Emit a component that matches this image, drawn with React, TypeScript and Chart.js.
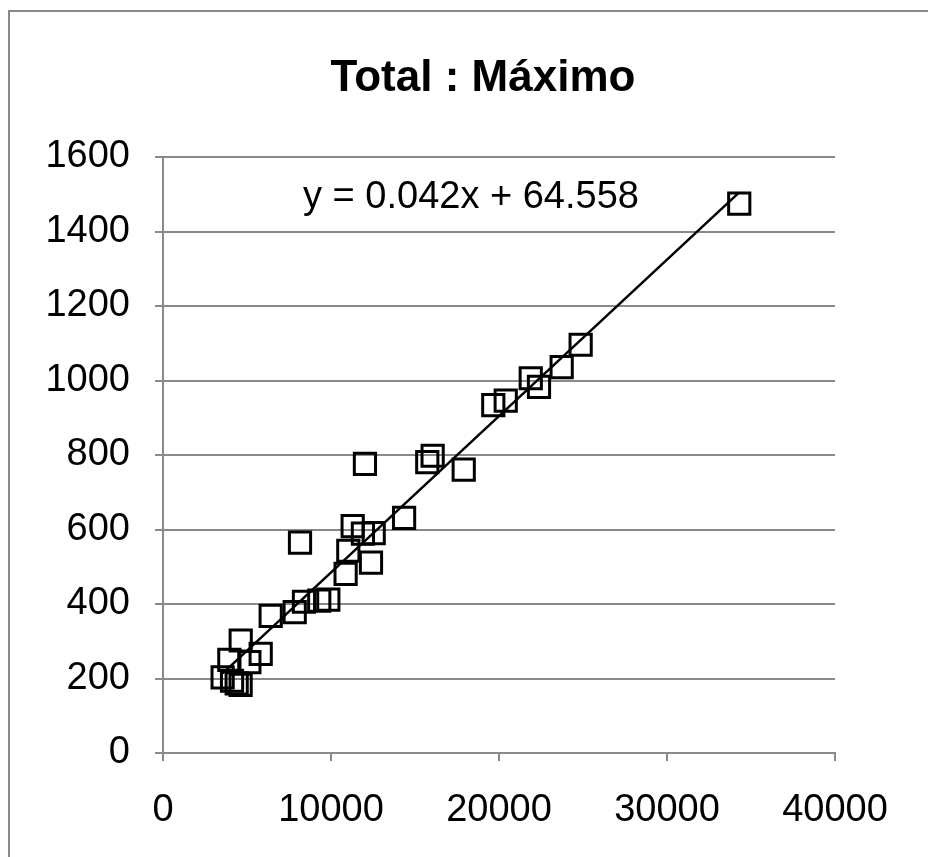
import React, { useEffect, useRef } from "react";
import { Chart, registerables } from "chart.js";

Chart.register(...registerables);

const chartTitle = "Total : Máximo";
const xValues = [34300, 24860, 23730, 21890, 22380, 19660, 20400, 16050, 15730, 17900, 14350, 12020, 8155, 11290, 11900, 12540, 11030, 12380, 10870, 8390, 9840, 9300, 7840, 6410, 4625, 3950, 5815, 5140, 3550, 4110, 4620, 4385];
const yValues = [1475, 1096, 1036, 1006, 983, 934, 946, 798, 781, 761, 631, 776, 565, 609, 589, 590, 543, 511, 481, 406, 412, 409, 378, 368, 302, 250, 266, 244, 203, 194, 183, 187];
const trendSlope = 0.042;
const trendIntercept = 64.558;
const equationLabel = "y = 0.042x + 64.558";
const xTicks = [0, 10000, 20000, 30000, 40000];
const yTicks = [0, 200, 400, 600, 800, 1000, 1200, 1400, 1600];

const FONT = "'Liberation Sans', Arial, sans-serif";
const GRAY = "#8a8a8a";

export default function App() {
  const ref = useRef<HTMLCanvasElement | null>(null);

  useEffect(() => {
    document.body.style.margin = "0";
    document.body.style.overflow = "hidden";
    const canvas = ref.current;
    if (!canvas) return;

    const points = xValues.map((x, i) => ({ x, y: yValues[i] }));
    const minX = Math.min(...xValues);
    const maxX = Math.max(...xValues);
    const trend = [
      { x: minX, y: trendSlope * minX + trendIntercept },
      { x: maxX, y: trendSlope * maxX + trendIntercept },
    ];

    const decor = {
      id: "decor",
      afterDraw(chart: any) {
        const ctx = chart.ctx;
        const area = chart.chartArea;
        ctx.save();
        ctx.strokeStyle = GRAY;
        ctx.lineWidth = 2;
        ctx.beginPath();
        ctx.moveTo(9, chart.height);
        ctx.lineTo(9, 11);
        ctx.lineTo(chart.width, 11);
        ctx.stroke();
        ctx.fillStyle = "#000";
        ctx.font = `bold 44px ${FONT}`;
        ctx.textAlign = "center";
        ctx.textBaseline = "middle";
        ctx.fillText(chartTitle, 483, 79);
        ctx.font = `38px ${FONT}`;
        ctx.textAlign = "left";
        ctx.fillText(equationLabel, area.left + 140, area.top + 41);
        ctx.restore();
      },
    };

    const plain = (v: any) => String(v);

    const chart = new Chart(canvas, {
      type: "scatter",
      data: {
        datasets: [
          {
            type: "line",
            data: trend,
            borderColor: "#000",
            borderWidth: 2.5,
            pointRadius: 0,
            fill: false,
            order: 2,
          } as any,
          {
            data: points,
            pointStyle: "rect",
            pointRadius: 15,
            pointHoverRadius: 15,
            borderColor: "#000",
            borderWidth: 3,
            backgroundColor: "rgba(0,0,0,0)",
            order: 1,
          },
        ],
      },
      options: {
        animation: false,
        responsive: false,
        maintainAspectRatio: false,
        events: [],
        layout: { padding: { top: 157, right: 93, left: 0, bottom: 0 } },
        plugins: {
          legend: { display: false },
          tooltip: { enabled: false },
          title: { display: false },
        },
        scales: {
          x: {
            type: "linear",
            min: 0,
            max: 40000,
            afterBuildTicks: (scale: any) => {
              scale.ticks = xTicks.map((v) => ({ value: v }));
            },
            afterFit: (scale: any) => {
              scale.height = 104;
            },
            ticks: {
              font: { family: FONT, size: 38 },
              color: "#000",
              padding: 27,
              maxRotation: 0,
              autoSkip: false,
              callback: plain,
            },
            grid: {
              drawOnChartArea: false,
              drawTicks: true,
              tickLength: 8,
              color: GRAY,
              lineWidth: 2,
            },
            border: { color: GRAY, width: 2 },
          },
          y: {
            type: "linear",
            min: 0,
            max: 1600,
            afterBuildTicks: (scale: any) => {
              scale.ticks = yTicks.map((v) => ({ value: v }));
            },
            afterFit: (scale: any) => {
              scale.width = 163;
            },
            ticks: {
              font: { family: FONT, size: 38 },
              color: "#000",
              padding: 25,
              autoSkip: false,
              callback: plain,
            },
            grid: {
              drawOnChartArea: true,
              drawTicks: true,
              tickLength: 8,
              color: GRAY,
              lineWidth: 2,
            },
            border: { color: GRAY, width: 2 },
          },
        },
      },
      plugins: [decor],
    });

    return () => chart.destroy();
  }, []);

  return (
    <div style={{ width: 928, height: 857 }}>
      <canvas ref={ref} width={928} height={857} style={{ display: "block", width: 928, height: 857 }} />
    </div>
  );
}
